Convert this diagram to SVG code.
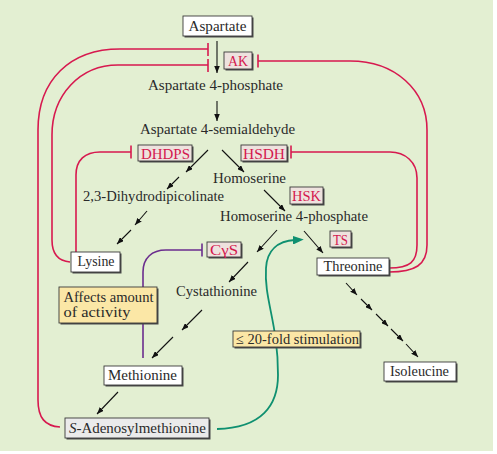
<svg xmlns="http://www.w3.org/2000/svg" width="497" height="454" viewBox="0 0 497 454">
<defs>
<style>
text{font-family:"Liberation Serif","Times New Roman",serif;font-size:14.5px;fill:#2a2a2a}
.c{text-anchor:middle}
.enz{fill:#d4184e}
.box{fill:#ffffff;stroke:#3a3a3a;stroke-width:0.9}
.sh{fill:#4a4a4a}
.ebox{fill:#eee2de;stroke:#3a3a3a;stroke-width:0.9}
.ybox{fill:#fbe7a6;stroke:#3a3a3a;stroke-width:0.9}
.gbox{fill:#ebebeb;stroke:#3a3a3a;stroke-width:0.9}
.arr{fill:none;stroke:#111;stroke-width:1.1;marker-end:url(#ah)}
.red{fill:none;stroke:#d7194f;stroke-width:1.6}
.pur{fill:none;stroke:#6b2d8e;stroke-width:1.6}
.grn{fill:none;stroke:#0f9070;stroke-width:1.8}
</style>
<marker id="ah" viewBox="0 0 10 8" refX="10" refY="4" markerWidth="7" markerHeight="5.6" markerUnits="userSpaceOnUse" orient="auto">
<path d="M0,0 L10,4 L0,8 Z" fill="#111"/>
</marker>
<marker id="gh" viewBox="0 0 10 8" refX="2" refY="4" markerWidth="11" markerHeight="8.8" markerUnits="userSpaceOnUse" orient="auto">
<path d="M0,0 L10,4 L0,8 Z" fill="#0f9070"/>
</marker>
</defs>
<rect x="0" y="0" width="497" height="454" fill="#ffffff"/>
<rect x="0" y="0" width="493" height="451" fill="#e3efd2"/>

<g id="connectors">
<!-- regulatory red lines -->
<path class="red" d="M60,427 C45,426 38,418 38,400 L38,130 C38,80 70,49 120,49 L208,49"/>
<path class="red" d="M208,43 L208,56"/>
<path class="red" d="M70,262 C58,261 52,254 52,240 L52,135 C52,95 80,65 118,65 L208,65"/>
<path class="red" d="M208,59 L208,72"/>
<path class="red" d="M76,252 L76,175 C76,160 85,152 100,152 L131,152"/>
<path class="red" d="M131,145.5 L131,158.5"/>
<path class="red" d="M389,268 C410,268 417,262 417,245 L417,178 C417,162 405,152 390,152 L291,152"/>
<path class="red" d="M291,145.5 L291,158.5"/>
<path class="red" d="M389,272 C415,272 427,265 427,245 L427,130 C427,90 395,61 350,61 L258,61"/>
<path class="red" d="M258,54.5 L258,67.5"/>
<!-- purple -->
<path class="pur" d="M143,358 L143,272 C143,258 152,250 166,250 L202,250"/>
<path class="pur" d="M202,243.5 L202,256.5"/>
<!-- green -->
<path class="grn" d="M217,429 C262,428 278,405 278,375 C278,322 264,300 266,268 C267,250 278,241 295,240" marker-end="url(#gh)"/>
<!-- black pathway arrows -->
<path class="arr" d="M217,41 L217,73"/>
<path class="arr" d="M217,101 L217,121"/>
<path class="arr" d="M208,150 L186,172"/>
<path class="arr" d="M179,177 L167,189"/>
<path class="arr" d="M222,150 L244,172"/>
<path class="arr" d="M264,190 L285,211"/>
<path class="arr" d="M147,211 L135,225"/>
<path class="arr" d="M131,230 L117,244"/>
<path class="arr" d="M304,231 L323,253"/>
<path class="arr" d="M277,230 L257,252"/>
<path class="arr" d="M248,262 L229,282"/>
<path class="arr" d="M202,310 L182,330"/>
<path class="arr" d="M173,337 L152,358"/>
<path class="arr" d="M118,392 L97,414"/>
<path class="arr" d="M346,283 L357,295"/>
<path class="arr" d="M361,299 L372,310"/>
<path class="arr" d="M376,314 L388,326"/>
<path class="arr" d="M391,329 L403,341"/>
<path class="arr" d="M406,344 L418,357"/>
</g>

<g id="aspartate">
<rect class="sh" x="184.5" y="17.5" width="69" height="20"/>
<rect class="box" x="183" y="16" width="69" height="20"/>
<text class="c" x="217.5" y="30.5" textLength="58" lengthAdjust="spacingAndGlyphs">Aspartate</text>
</g>
<g id="AK">
<rect class="sh" x="225.5" y="53.5" width="28" height="17"/>
<rect class="ebox" x="224" y="52" width="28" height="17"/>
<text class="c enz" x="238" y="66" textLength="20" lengthAdjust="spacingAndGlyphs">AK</text>
</g>
<g id="asp4p">
<text class="c" x="215.5" y="90" textLength="135" lengthAdjust="spacingAndGlyphs">Aspartate 4-phosphate</text>
</g>
<g id="asp4sa">
<text class="c" x="217.5" y="134" textLength="155" lengthAdjust="spacingAndGlyphs">Aspartate 4-semialdehyde</text>
</g>
<g id="DHDPS">
<rect class="sh" x="139.5" y="146.5" width="54" height="16"/>
<rect class="ebox" x="138" y="145" width="54" height="16"/>
<text class="c enz" x="165.5" y="158.5" textLength="49" lengthAdjust="spacingAndGlyphs">DHDPS</text>
</g>
<g id="HSDH">
<rect class="sh" x="242.5" y="146.5" width="46" height="16"/>
<rect class="ebox" x="241" y="145" width="46" height="16"/>
<text class="c enz" x="264" y="158.5" textLength="42" lengthAdjust="spacingAndGlyphs">HSDH</text>
</g>
<g id="homoserine">
<text class="c" x="249.5" y="183" textLength="73" lengthAdjust="spacingAndGlyphs">Homoserine</text>
</g>
<g id="dihydrodipicolinate">
<text class="c" x="153.5" y="201" textLength="141" lengthAdjust="spacingAndGlyphs">2,3-Dihydrodipicolinate</text>
</g>
<g id="HSK">
<rect class="sh" x="291.5" y="188.5" width="33" height="17"/>
<rect class="ebox" x="290" y="187" width="33" height="17"/>
<text class="c enz" x="306.5" y="200.5" textLength="29" lengthAdjust="spacingAndGlyphs">HSK</text>
</g>
<g id="homoserine4p">
<text class="c" x="294" y="221" textLength="148" lengthAdjust="spacingAndGlyphs">Homoserine 4-phosphate</text>
</g>
<g id="TS">
<rect class="sh" x="331.5" y="232.5" width="21" height="16"/>
<rect class="ebox" x="330" y="231" width="21" height="16"/>
<text class="c enz" x="340.5" y="244.5" textLength="15" lengthAdjust="spacingAndGlyphs">TS</text>
</g>
<g id="lysine">
<rect class="sh" x="72.5" y="253.5" width="49" height="20"/>
<rect class="box" x="71" y="252" width="49" height="20"/>
<text class="c" x="96" y="266" textLength="37" lengthAdjust="spacingAndGlyphs">Lysine</text>
</g>
<g id="CgS">
<rect class="sh" x="208.5" y="243.5" width="34" height="15"/>
<rect class="ebox" x="207" y="242" width="34" height="15"/>
<text class="c enz" x="224" y="254.5" textLength="28" lengthAdjust="spacingAndGlyphs">CγS</text>
</g>
<g id="threonine">
<rect class="sh" x="318.5" y="259.5" width="72" height="17"/>
<rect class="box" x="317" y="258" width="72" height="17"/>
<text class="c" x="353" y="271" textLength="59" lengthAdjust="spacingAndGlyphs">Threonine</text>
</g>
<g id="affects">
<rect class="sh" x="60.5" y="288.5" width="98" height="36"/>
<rect class="ybox" x="59" y="287" width="98" height="36"/>
<text x="63.5" y="302" textLength="90" lengthAdjust="spacingAndGlyphs">Affects amount</text>
<text x="63.5" y="317" textLength="67" lengthAdjust="spacingAndGlyphs">of activity</text>
</g>
<g id="cystathionine">
<text class="c" x="216.5" y="296" textLength="81" lengthAdjust="spacingAndGlyphs">Cystathionine</text>
</g>
<g id="stimulation">
<rect class="sh" x="234.5" y="332.5" width="127" height="16"/>
<rect class="ybox" x="233" y="331" width="127" height="16"/>
<text class="c" x="297.5" y="343.5" textLength="123" lengthAdjust="spacingAndGlyphs">≤ 20-fold stimulation</text>
</g>
<g id="methionine">
<rect class="sh" x="105.5" y="367.5" width="78" height="19"/>
<rect class="box" x="104" y="366" width="78" height="19"/>
<text class="c" x="142.5" y="380" textLength="69" lengthAdjust="spacingAndGlyphs">Methionine</text>
</g>
<g id="isoleucine">
<rect class="sh" x="385.5" y="363.5" width="72" height="19"/>
<rect class="box" x="384" y="362" width="72" height="19"/>
<text class="c" x="419.5" y="376" textLength="59" lengthAdjust="spacingAndGlyphs">Isoleucine</text>
</g>
<g id="sam">
<rect class="sh" x="66.5" y="419.5" width="144" height="20"/>
<rect class="gbox" x="65" y="418" width="144" height="20"/>
<text class="c" x="137.5" y="433" textLength="137" lengthAdjust="spacingAndGlyphs"><tspan font-style="italic">S</tspan>-Adenosylmethionine</text>
</g>
</svg>
